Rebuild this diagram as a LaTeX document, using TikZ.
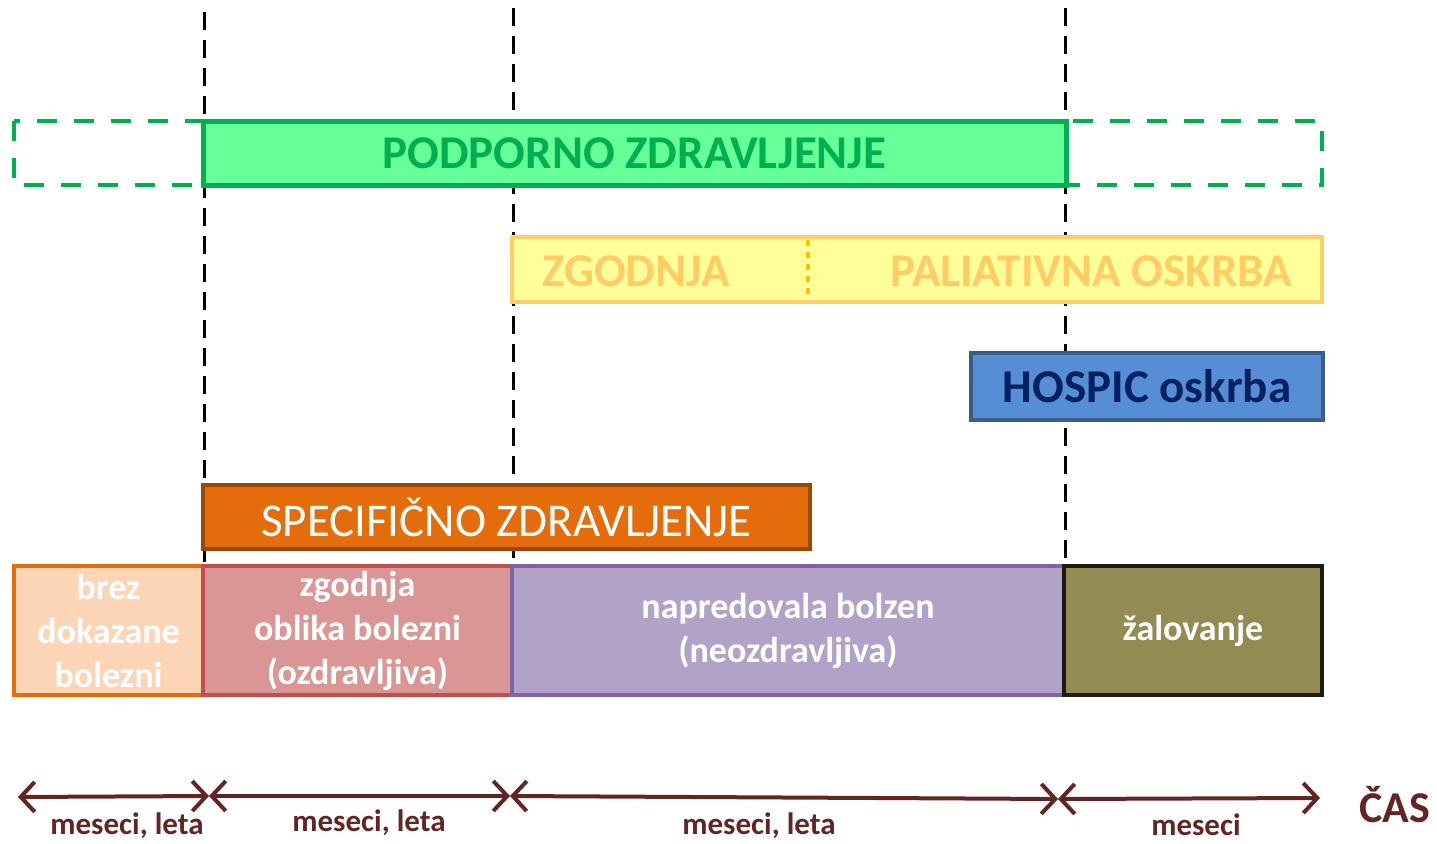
\documentclass[tikz,border=0pt]{standalone}
\usepackage{fontspec}
\setmainfont{Carlito}
\usetikzlibrary{arrows.meta}
\definecolor{greenfill}{HTML}{66FF99}
\definecolor{greenline}{HTML}{00B050}
\definecolor{yellowfill}{HTML}{FFFF99}
\definecolor{yellowline}{HTML}{FFCC66}
\definecolor{yellowdot}{HTML}{FFC000}
\definecolor{bluefill}{HTML}{558ED5}
\definecolor{blueline}{HTML}{385D8A}
\definecolor{navy}{HTML}{002060}
\definecolor{orangefill}{HTML}{E46C0A}
\definecolor{orangeline}{HTML}{984807}
\definecolor{peachfill}{HTML}{FBD5B5}
\definecolor{rosefill}{HTML}{D99694}
\definecolor{roseline}{HTML}{C0504D}
\definecolor{lilacfill}{HTML}{B3A2C7}
\definecolor{lilacline}{HTML}{8064A2}
\definecolor{olivefill}{HTML}{948A54}
\definecolor{oliveline}{HTML}{1D1B10}
\definecolor{timered}{HTML}{632523}

\begin{document}
\begin{tikzpicture}[x=1pt,y=-1pt]
\tikzstyle{every node}+=[inner sep=0pt,outer sep=0pt]
\tikzstyle{bar}=[draw,line width=4pt,anchor=north west,font=\fontsize{47}{56}\selectfont\bfseries]
\tikzstyle{phase}=[draw,line width=4pt,anchor=north west,minimum height=129pt,align=center,text=white,font=\fontsize{36}{44}\selectfont\bfseries]
\tikzstyle{stage}=[black,line width=3pt,dash pattern=on 18pt off 10pt]
\tikzstyle{span}=[timered,line width=4pt,{Straight Barb[length=14pt,width=30pt]}-{Straight Barb[length=14pt,width=30pt]}]
\tikzstyle{spanlabel}=[text=timered,font=\fontsize{31}{38}\selectfont\bfseries]
\useasboundingbox (0,0) rectangle (1437,843);
% stage borders
\draw [stage] (204,12) -- (204,565);
\draw [stage] (513,8) -- (513,565);
\draw [stage] (1065,8) -- (1065,565);
% supportive care
\draw [greenline,line width=4pt,dash pattern=on 20pt off 17pt] (14,121) rectangle (1322,185);
\node [bar,fill=greenfill,draw=greenline,line width=5pt,text=greenline,minimum width=863pt,minimum height=64pt] (podporno) at (203,121) {PODPORNO ZDRAVLJENJE};
% palliative care
\node [bar,fill=yellowfill,draw=yellowline,minimum width=810pt,minimum height=65pt] (paliativna) at (512,237) {};
\draw [yellowdot,line width=4pt,dash pattern=on 6pt off 6pt] (808,240) -- (808,299);
\node [text=yellowline,font=\fontsize{47}{56}\selectfont\bfseries] (zgodnja) at (636,271) {ZGODNJA};
\node [text=yellowline,font=\fontsize{47}{56}\selectfont\bfseries] (oskrba) at (1091,271) {PALIATIVNA OSKRBA};
% hospice
\node [bar,fill=bluefill,draw=blueline,text=navy,minimum width=352pt,minimum height=67pt] (hospic) at (971,353) {HOSPIC oskrba};
% specific treatment
\node [bar,fill=orangefill,draw=orangeline,text=white,font=\fontsize{47}{56}\selectfont,minimum width=607pt,minimum height=64pt] (specificno) at (203,485) {SPECIFIČNO ZDRAVLJENJE};
% disease phases
\node [phase,fill=peachfill,draw=orangefill,minimum width=189pt] (brez) at (14,566) {brez\\dokazane\\bolezni};
\node [phase,fill=rosefill,draw=roseline,minimum width=309pt] (zgodnjaoblika) at (203,566) {zgodnja\\oblika bolezni\\(ozdravljiva)};
\node [phase,fill=lilacfill,draw=lilacline,minimum width=552pt] (napredovala) at (512,566) {napredovala bolzen\\(neozdravljiva)};
\node [phase,fill=olivefill,draw=oliveline,minimum width=258pt] (zalovanje) at (1064,566) {žalovanje};
% time axis
\coordinate (t0) at (18,797);
\coordinate (t1) at (209,796);
\coordinate (t2) at (510,796);
\coordinate (t3) at (1058,799);
\coordinate (t4) at (1320,798);
\draw [span] (t0) -- (t1);
\draw [span] (t1) -- (t2);
\draw [span] (t2) -- (t3);
\draw [span] (t3) -- (t4);
\node [spanlabel] (l1) at (127,826) {meseci, leta};
\node [spanlabel] (l2) at (369,823) {meseci, leta};
\node [spanlabel] (l3) at (759,826) {meseci, leta};
\node [spanlabel] (l4) at (1196,825) {meseci};
\node [text=timered,font=\fontsize{44}{52}\selectfont\bfseries] (cas) at (1395,805) {ČAS};
\end{tikzpicture}
\end{document}
